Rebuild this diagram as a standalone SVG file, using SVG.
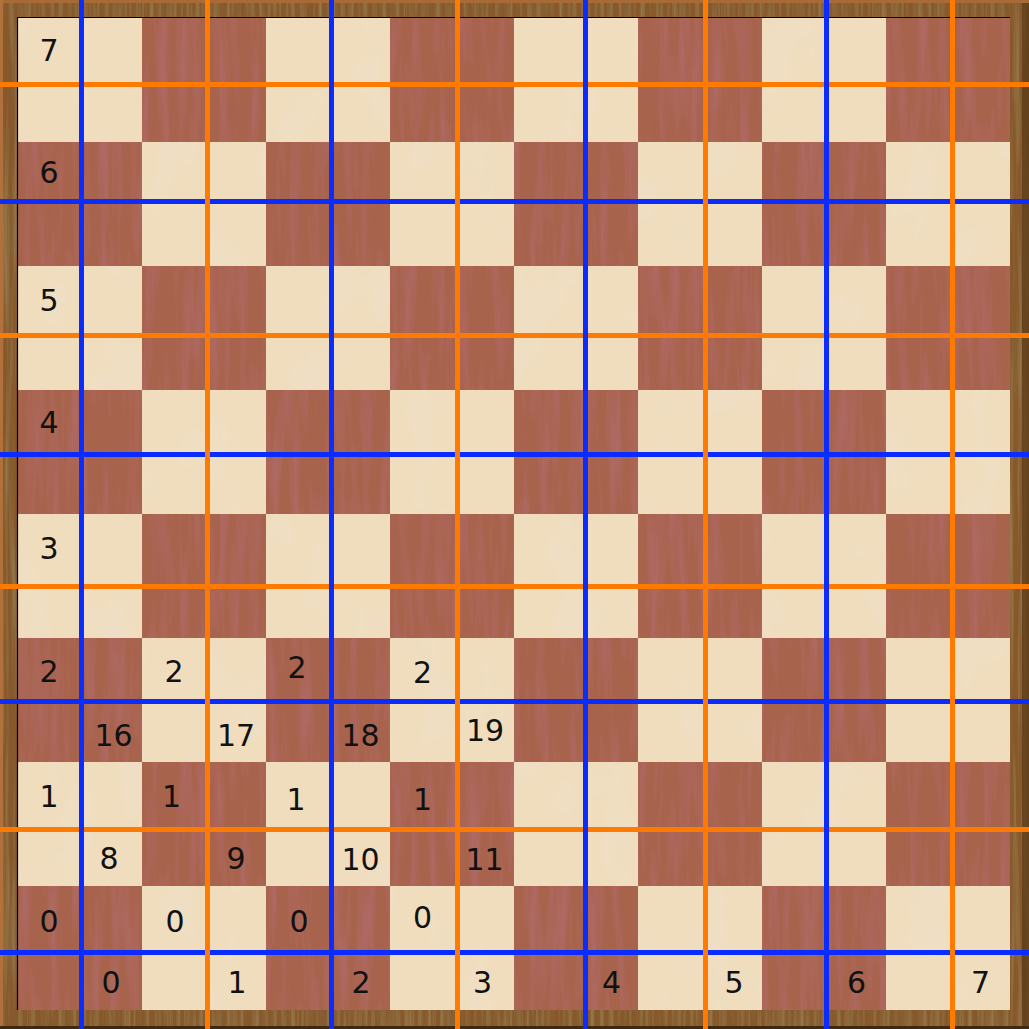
<svg xmlns="http://www.w3.org/2000/svg" width="1029" height="1029" viewBox="0 0 1029 1029">
  <defs>
    <style>
      .lbl { font-family: "DejaVu Sans", "Liberation Sans", sans-serif; font-size: 30px; fill: #111; text-anchor: middle; }
      .blue { stroke: #0a2cff; stroke-width: 5; }
      .orange { stroke: #ff7a00; stroke-width: 5; }
    </style>
    <filter id="grainFrame" filterUnits="userSpaceOnUse" x="0" y="0" width="1029" height="1029">
      <feTurbulence type="fractalNoise" baseFrequency="0.22 0.006" numOctaves="3" seed="11" result="n"/>
      <feColorMatrix in="n" type="matrix" values="0 0 0 0 0.30  0 0 0 0 0.19  0 0 0 0 0.07  2.4 0 0 0 -1.0" result="s"/>
      <feComposite in="s" in2="SourceGraphic" operator="atop"/>
    </filter>
    <filter id="grainLight" filterUnits="userSpaceOnUse" x="0" y="0" width="1029" height="1029">
      <feTurbulence type="fractalNoise" baseFrequency="0.02 0.012" numOctaves="3" seed="4" result="n"/>
      <feColorMatrix in="n" type="matrix" values="0 0 0 0 0.86  0 0 0 0 0.74  0 0 0 0 0.58  1.8 0 0 0 -0.88" result="s"/>
      <feComposite in="s" in2="SourceGraphic" operator="atop"/>
    </filter>
    <filter id="grainDark" filterUnits="userSpaceOnUse" x="0" y="0" width="1029" height="1029">
      <feTurbulence type="fractalNoise" baseFrequency="0.1 0.008" numOctaves="3" seed="7" result="n"/>
      <feColorMatrix in="n" type="matrix" values="0 0 0 0 0.42  0 0 0 0 0.14  0 0 0 0 0.12  3.0 0 0 0 -1.35" result="s"/>
      <feComposite in="s" in2="SourceGraphic" operator="atop"/>
    </filter>
    <pattern id="checker" patternUnits="userSpaceOnUse" x="18" y="18" width="248" height="248">
      <rect x="124" y="0" width="124" height="124" fill="#a8634d"/>
      <rect x="0" y="124" width="124" height="124" fill="#a8634d"/>
    </pattern>
  </defs>

  <g id="frame">
    <rect x="0" y="0" width="1029" height="1029" fill="#86582a" filter="url(#grainFrame)"/>
    <rect x="0" y="0" width="1029" height="3" fill="#a86b36"/>
    <rect x="0" y="0" width="3" height="1029" fill="#b0713a"/>
    <rect x="1022" y="3" width="7" height="1026" fill="#5e3d19" opacity="0.8"/>
    <rect x="0" y="1026" width="1029" height="3" fill="#3e2a12"/>
  </g>

  <g id="board">
    <rect x="18" y="18" width="992" height="992" fill="#f0ddbd" filter="url(#grainLight)"/>
    <rect x="18" y="18" width="992" height="992" fill="url(#checker)" filter="url(#grainDark)"/>
    <path d="M17.5 1010 V17.5 H1010" fill="none" stroke="#000" stroke-width="1.2"/>
  </g>

  <g id="grid">
    <line class="orange" x1="0" y1="84.5" x2="1029" y2="84.5"/>
    <line class="blue" x1="0" y1="201.5" x2="1029" y2="201.5"/>
    <line class="orange" x1="0" y1="335.5" x2="1029" y2="335.5"/>
    <line class="blue" x1="0" y1="454.5" x2="1029" y2="454.5"/>
    <line class="orange" x1="0" y1="586.5" x2="1029" y2="586.5"/>
    <line class="blue" x1="0" y1="701.5" x2="1029" y2="701.5"/>
    <line class="orange" x1="0" y1="829.5" x2="1029" y2="829.5"/>
    <line class="blue" x1="0" y1="952.5" x2="1029" y2="952.5"/>
    <line class="blue" x1="81.5" y1="0" x2="81.5" y2="1029"/>
    <line class="orange" x1="207.5" y1="0" x2="207.5" y2="1029"/>
    <line class="blue" x1="331.5" y1="0" x2="331.5" y2="1029"/>
    <line class="orange" x1="457.5" y1="0" x2="457.5" y2="1029"/>
    <line class="blue" x1="585.5" y1="0" x2="585.5" y2="1029"/>
    <line class="orange" x1="705.5" y1="0" x2="705.5" y2="1029"/>
    <line class="blue" x1="826.5" y1="0" x2="826.5" y2="1029"/>
    <line class="orange" x1="952.5" y1="0" x2="952.5" y2="1029"/>
  </g>

  <g id="labels">
    <text class="lbl" x="49" y="61">7</text>
    <text class="lbl" x="49" y="183">6</text>
    <text class="lbl" x="49" y="311">5</text>
    <text class="lbl" x="49" y="433">4</text>
    <text class="lbl" x="49" y="559">3</text>
    <text class="lbl" x="49" y="682">2</text>
    <text class="lbl" x="49" y="807">1</text>
    <text class="lbl" x="49" y="932">0</text>

    <text class="lbl" x="111" y="993">0</text>
    <text class="lbl" x="237" y="993">1</text>
    <text class="lbl" x="361" y="993">2</text>
    <text class="lbl" x="482.5" y="993">3</text>
    <text class="lbl" x="611.5" y="993">4</text>
    <text class="lbl" x="734" y="993">5</text>
    <text class="lbl" x="856.5" y="993">6</text>
    <text class="lbl" x="980.5" y="993">7</text>

    <text class="lbl" x="174" y="682">2</text>
    <text class="lbl" x="297" y="678">2</text>
    <text class="lbl" x="422.5" y="683">2</text>
    <text class="lbl" x="113.5" y="746">16</text>
    <text class="lbl" x="236" y="746">17</text>
    <text class="lbl" x="360.5" y="746">18</text>
    <text class="lbl" x="485" y="741">19</text>
    <text class="lbl" x="171.5" y="807">1</text>
    <text class="lbl" x="296" y="810">1</text>
    <text class="lbl" x="422.5" y="810">1</text>
    <text class="lbl" x="109" y="869">8</text>
    <text class="lbl" x="236" y="869">9</text>
    <text class="lbl" x="360.5" y="870">10</text>
    <text class="lbl" x="484.5" y="870">11</text>
    <text class="lbl" x="175" y="932">0</text>
    <text class="lbl" x="299" y="932">0</text>
    <text class="lbl" x="422.5" y="928">0</text>
  </g>
</svg>
